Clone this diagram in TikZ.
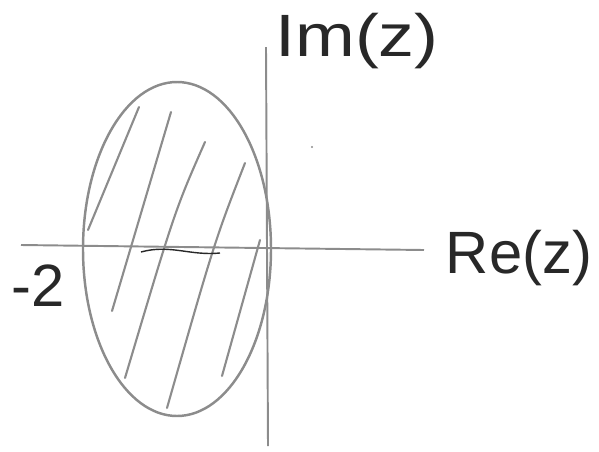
\documentclass[tikz,border=0pt]{standalone}
\usepackage{fontspec}
\setmainfont{Liberation Sans}
\usepackage{tikz}
\usetikzlibrary{positioning, calc}
\definecolor{pencil}{RGB}{140,140,140}
\definecolor{inkcolor}{RGB}{40,40,40}

\begin{document}
\begin{tikzpicture}[
    x=0.02cm, y=-0.02cm,
    axis/.style={draw=pencil, line width=1.1pt},
    hatch/.style={draw=pencil, line width=1.2pt, line cap=round},
    lbl/.style={text=inkcolor, font=\fontsize{34}{34}\selectfont, inner sep=0pt},
]
\useasboundingbox (0,0) rectangle (599,451);

% axes
\coordinate (xl) at (21,245);
\coordinate (xr) at (424,250);
\coordinate (yt) at (266,47);
\coordinate (yb) at (268,446);
\draw[axis] (xl) -- (xr);
\draw[axis] (yt) -- (yb);

% region
\draw[draw=pencil, line width=1.4pt] (177,249) ellipse [x radius=94, y radius=167];
\draw[hatch] (139,107) -- (88,230);
\draw[hatch] (171,112) -- (112,311);
\draw[hatch] (205,142) .. controls (175,210) .. (125,378);
\draw[hatch] (245,163) .. controls (215,240) .. (167,408);
\draw[hatch] (260,240) -- (222,376);
\draw[inkcolor, line width=0.8pt] (141,252) .. controls (170,244) and (190,256) .. (220,253);
\fill[pencil] (312,147) circle (1.2);

% labels
\node[lbl, xscale=1.2] (im) at (357,41) {Im(z)};
\node[lbl] (re) at (519,258) {Re(z)};
\node[lbl] (mtwo) at (38,286) {-2};
\end{tikzpicture}
\end{document}
